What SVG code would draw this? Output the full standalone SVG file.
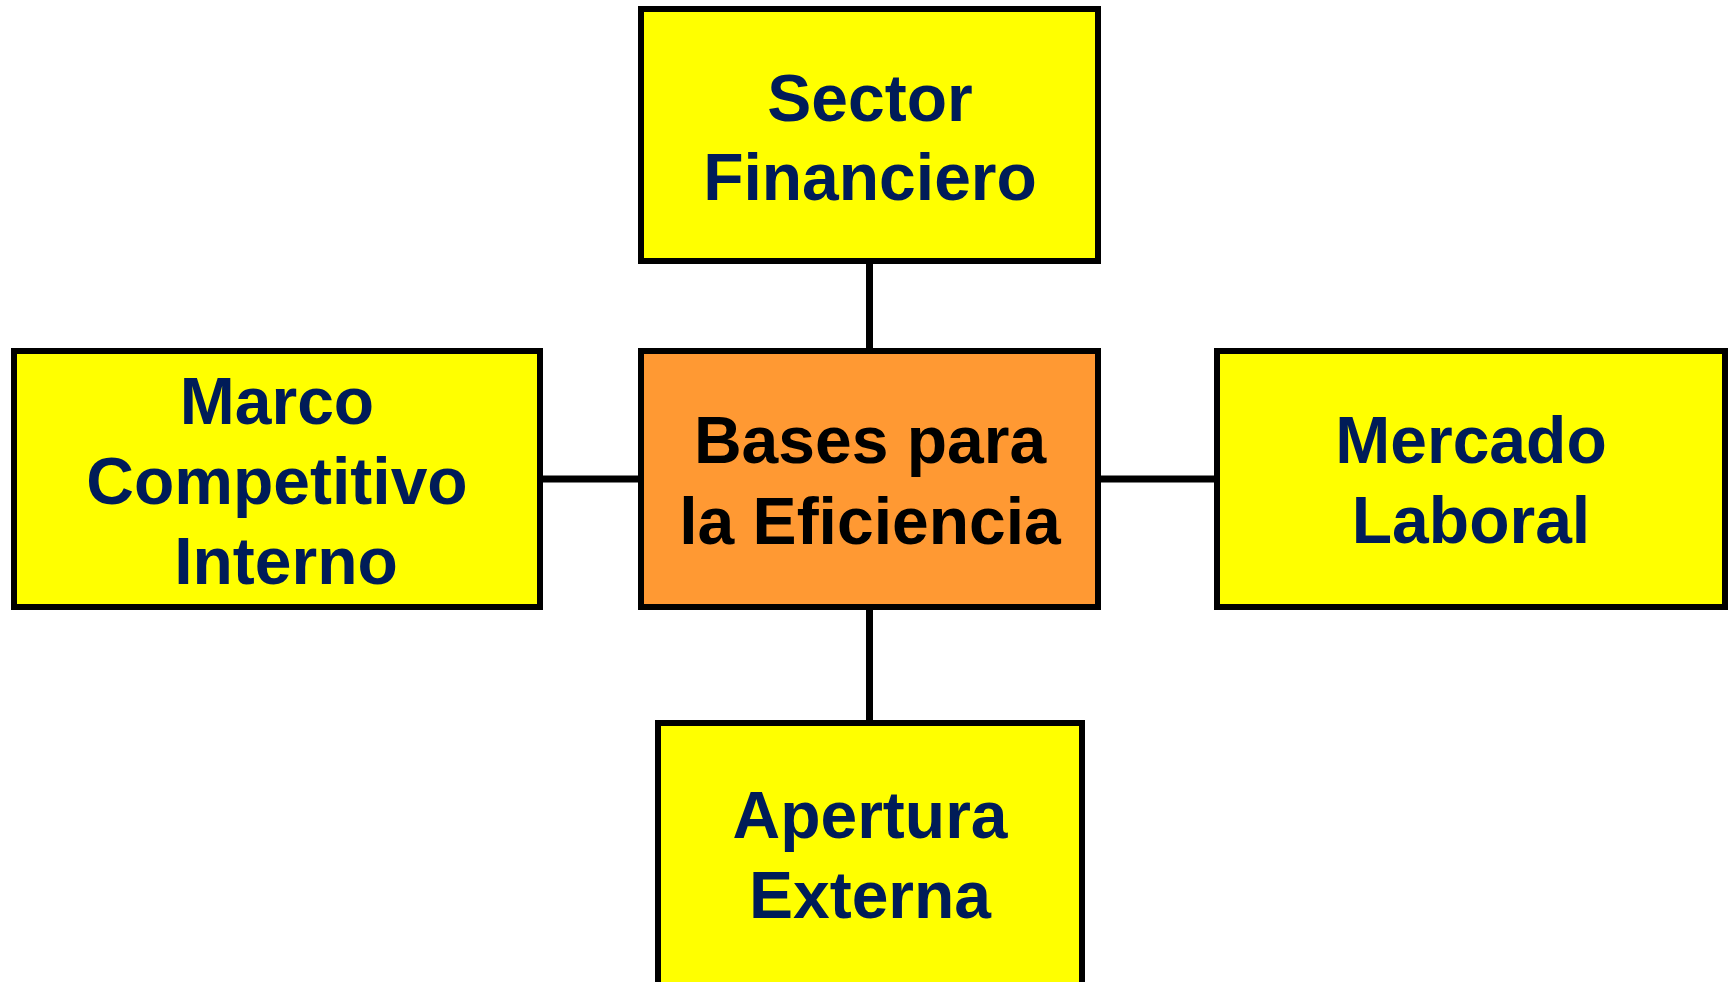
<svg xmlns="http://www.w3.org/2000/svg" width="1730" height="982" viewBox="0 0 1730 982">
<style>
.box{stroke:#000;stroke-width:6}
.y{fill:#ffff00}
.o{fill:#ff9933}
.t{font-family:"Liberation Sans",Arial,sans-serif;font-weight:bold;font-size:66px;text-anchor:middle;fill:#001c58}
.tb{fill:#000}
.c{stroke:#000;stroke-width:7;fill:none}
</style>
<rect width="1730" height="982" fill="#fff"/>
<g id="connectors">
<line class="c" x1="869.5" y1="261" x2="869.5" y2="351"/>
<line class="c" x1="869.5" y1="607" x2="869.5" y2="723"/>
<line class="c" x1="540" y1="479" x2="641" y2="479"/>
<line class="c" x1="1098" y1="479" x2="1217" y2="479"/>
</g>
<g id="sector">
<rect class="box y" x="641" y="9" width="457" height="252"/>
<text class="t" x="870" y="121">Sector</text>
<text class="t" x="870" y="200">Financiero</text>
</g>
<g id="bases">
<rect class="box o" x="641" y="351" width="457" height="256"/>
<text class="t tb" x="870" y="463">Bases para</text>
<text class="t tb" x="870" y="544">la Eficiencia</text>
</g>
<g id="marco">
<rect class="box y" x="14" y="351" width="526" height="256"/>
<text class="t" x="277" y="424">Marco</text>
<text class="t" x="277" y="504">Competitivo</text>
<text class="t" x="286" y="584">Interno</text>
</g>
<g id="mercado">
<rect class="box y" x="1217" y="351" width="508" height="256"/>
<text class="t" x="1471" y="463">Mercado</text>
<text class="t" x="1471" y="543">Laboral</text>
</g>
<g id="apertura">
<rect class="box y" x="658" y="723" width="424" height="270"/>
<text class="t" x="870" y="838">Apertura</text>
<text class="t" x="870" y="918">Externa</text>
</g>
</svg>
